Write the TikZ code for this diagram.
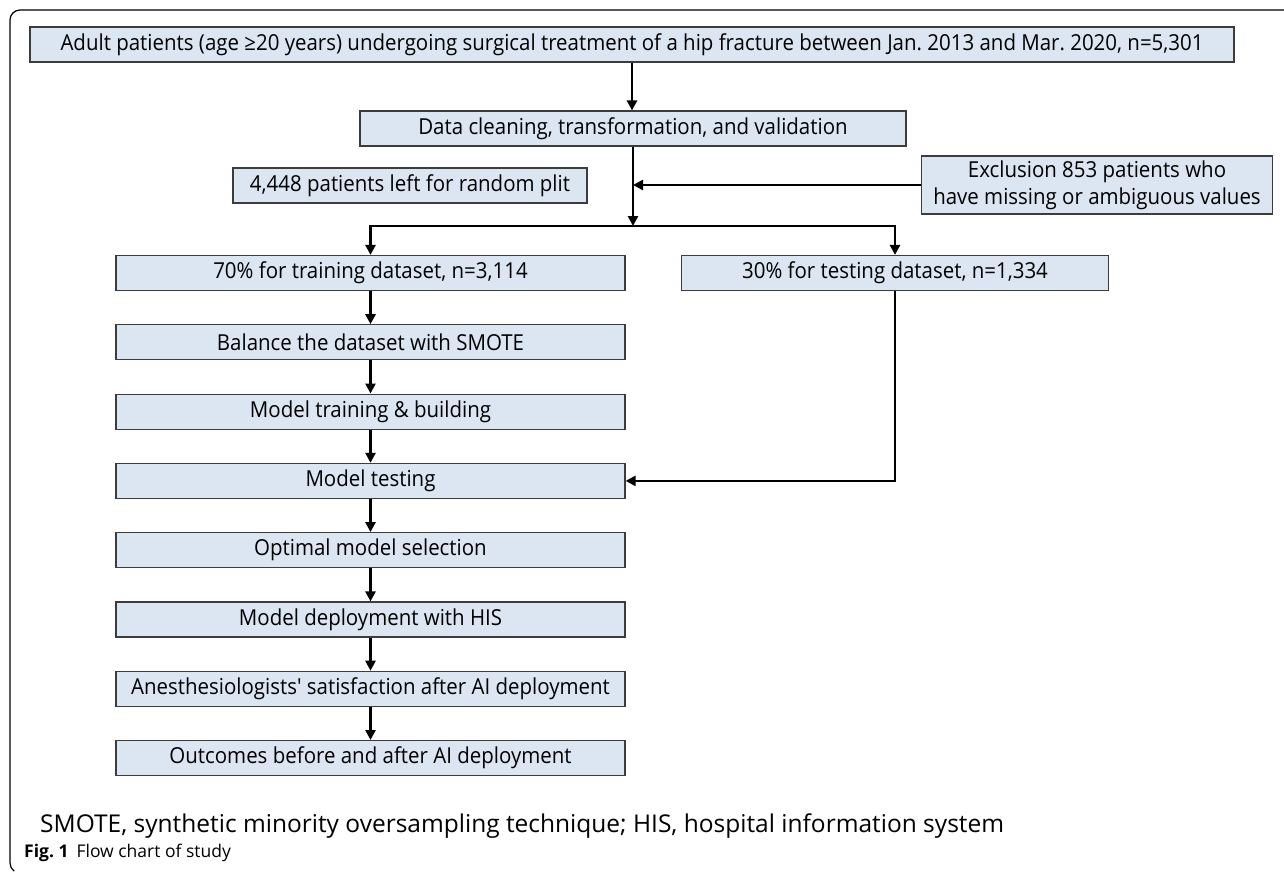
\documentclass[tikz,border=0pt]{standalone}
\usepackage{fontspec}
\setmainfont{Open Sans}
\newfontfamily\boxfont[FakeStretch=0.93]{Open Sans}
\usetikzlibrary{arrows.meta}
\definecolor{boxfill}{RGB}{220,230,242}
\definecolor{boxline}{RGB}{60,60,60}
\begin{document}
\frenchspacing
\begin{tikzpicture}[x=1pt,y=-1pt,
  box/.style={draw=boxline, line width=1.2pt, fill=boxfill, minimum height=35pt,
    inner sep=0pt, align=center, font=\boxfont\fontsize{22}{27}\selectfont},
  arr/.style={line width=2.8pt, -{Triangle[length=10pt,width=10pt]}},
  darr/.style={line width=2.8pt, {Triangle[length=10pt,width=10pt]}-{Triangle[length=10pt,width=10pt]}},
  frame/.style={line width=1.2pt, black}
]
\useasboundingbox (0,0) rectangle (1284,871);
\clip (0,0) rectangle (1284,871);
% outer frame
\draw[frame] (1290,10) -- (20,10) arc[start angle=270, end angle=180, radius=10]
  -- (10,863) arc[start angle=180, end angle=125, radius=10];

\node[box, minimum width=1204pt] (b1) at (632,44.5) {Adult patients (age ≥20 years) undergoing surgical treatment of a hip fracture between Jan. 2013 and Mar. 2020, n=5,301};
\node[box, minimum width=546pt] (b2) at (633,128.5) {Data cleaning, transformation, and validation};
\node[box, minimum width=354pt] (lft) at (410,185.5) {4,448 patients left for random plit};
\node[box, minimum width=351pt, minimum height=58pt] (ex) at (1097,185) {Exclusion 853 patients who\\have missing or ambiguous values};

\node[box, minimum width=509pt] (t70) at (370.5,273) {70\% for training dataset, n=3,114};
\node[box, minimum width=427pt] (t30) at (895,273) {30\% for testing dataset, n=1,334};
\node[box, minimum width=509pt] (bal) at (370.5,342.3) {Balance the dataset with SMOTE};
\node[box, minimum width=509pt] (trn) at (370.5,411.6) {Model training \& building};
\node[box, minimum width=509pt] (tst) at (370.5,480.9) {Model testing};
\node[box, minimum width=509pt] (opt) at (370.5,550.2) {Optimal model selection};
\node[box, minimum width=509pt] (dep) at (370.5,619.5) {Model deployment with HIS};
\node[box, minimum width=509pt] (ane) at (370.5,688.8) {Anesthesiologists' satisfaction after AI deployment};
\node[box, minimum width=509pt] (out) at (370.5,758.1) {Outcomes before and after AI deployment};

\coordinate (sp) at (633,226);

\draw[arr] (b1.south) -- (b1.south |- b2.north);
\draw[arr] (b2.south) -- (b2.south |- sp);
\draw[arr] (ex.west) -- (ex.west -| b2.south);
\draw[darr] (t70.north) |- (t30.north |- sp) -- (t30.north);
\draw[arr] (t30.south) |- (tst.east);
\foreach \a/\b in {t70/bal, bal/trn, trn/tst, tst/opt, opt/dep, dep/ane, ane/out}
  \draw[arr] (\a) -- (\b);

\node[anchor=west, inner sep=0pt, font=\fontsize{24.5}{29}\selectfont] (cap) at (40,826)
  {SMOTE, synthetic minority oversampling technique; HIS, hospital information system};
\node[anchor=west, inner sep=0pt, font=\fontsize{17.5}{21}\selectfont] (fig) at (24,853)
  {\textbf{Fig. 1}\hspace{8pt}Flow chart of study};
\end{tikzpicture}
\end{document}
